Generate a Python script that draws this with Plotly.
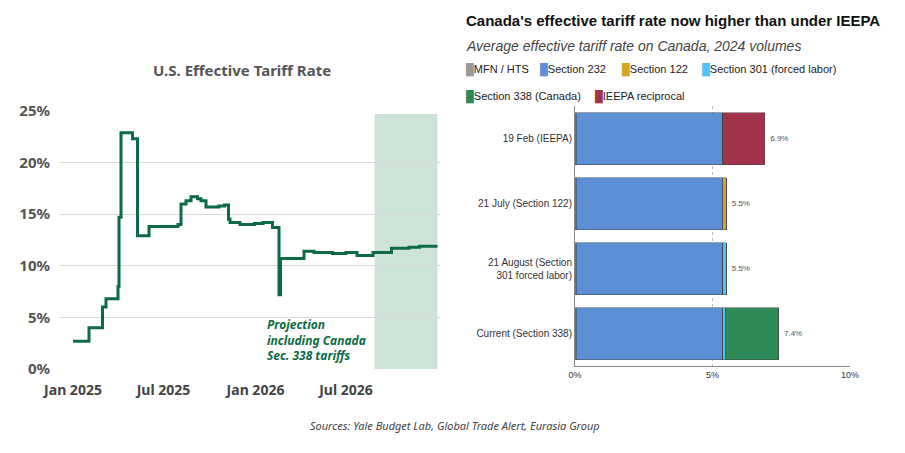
import plotly.graph_objects as go

# ---- Left chart data ----
dates = ["2025-01-01","2025-02-02","2025-03-01","2025-03-08","2025-04-01","2025-04-03","2025-04-07",
         "2025-04-30","2025-05-10","2025-06-02","2025-07-30","2025-08-05","2025-08-15","2025-08-25",
         "2025-09-07","2025-09-14","2025-09-24","2025-10-20","2025-10-31","2025-11-08","2025-11-11",
         "2025-12-01","2025-12-30","2026-01-16","2026-02-04","2026-02-17","2026-02-20","2026-04-08",
         "2026-04-28","2026-06-04","2026-07-01","2026-07-23","2026-08-24","2026-09-30","2026-11-04",
         "2026-11-25","2026-12-31"]
rates = [2.7,4.0,6.0,6.8,8.0,14.7,22.9,22.3,12.9,13.8,14.0,16.0,16.3,16.7,16.5,16.3,15.7,15.8,15.9,
         14.5,14.2,14.0,14.1,14.2,13.7,7.2,10.7,11.4,11.3,11.2,11.3,11.0,11.3,11.7,11.8,11.9,11.9]
proj_start, proj_end = "2026-08-27", "2026-12-31"
x_ticks = ["2025-01-01", "2025-07-01", "2026-01-01", "2026-07-01"]
x_ticktext = ["Jan 2025", "Jul 2025", "Jan 2026", "Jul 2026"]

# ---- Right chart data ----
cats = ["19 Feb (IEEPA)", "21 July (Section 122)", "21 August (Section<br>301 forced labor)", "Current (Section 338)"]
series = ["MFN / HTS", "Section 232", "Section 122", "Section 301 (forced labor)", "Section 338 (Canada)", "IEEPA reciprocal"]
colors = ["#999999", "#5b8fd6", "#d9a520", "#4fc3f7", "#2e8b57", "#a3334b"]
values = {
    "MFN / HTS": [0.05, 0.05, 0.05, 0.05],
    "Section 232": [5.32, 5.32, 5.32, 5.32],
    "Section 122": [0, 0.13, 0, 0],
    "Section 301 (forced labor)": [0, 0, 0.13, 0.1],
    "Section 338 (Canada)": [0, 0, 0, 1.93],
    "IEEPA reciprocal": [1.53, 0, 0, 0],
}
totals = ["6.9%", "5.5%", "5.5%", "7.4%"]
totals_v = [6.9, 5.5, 5.5, 7.4]

W, H, OFF = 889, 437, 8
def px(x): return (x - OFF) / W
def py(y): return 1 - (y - OFF) / H

fig = go.Figure()
G = "#0b6b45"
fig.add_trace(go.Scatter(x=dates, y=rates, mode="lines", line=dict(color=G, width=3, shape="hv"),
                         xaxis="x", yaxis="y", showlegend=False))
fig.add_shape(type="rect", xref="x", yref="y", x0=proj_start, x1=proj_end, y0=0, y1=24.7,
              fillcolor="#cde3d8", line_width=0, layer="below")

for s, c in zip(series, colors):
    fig.add_trace(go.Bar(y=cats, x=values[s], orientation="h", marker=dict(color=c, line=dict(color="#444", width=0.5)),
                         name=s, xaxis="x2", yaxis="y2", showlegend=False, width=0.8))
fig.add_trace(go.Scatter(y=cats, x=[v + 0.2 for v in totals_v], text=totals, mode="text", textposition="middle right",
                         textfont=dict(size=8, color="#555"), xaxis="x2", yaxis="y2", showlegend=False))

fig.update_layout(
    width=W, height=H, margin=dict(l=0, r=0, t=0, b=0), paper_bgcolor="white", plot_bgcolor="white",
    barmode="stack", font=dict(family="Liberation Sans", color="#333"),
    xaxis=dict(domain=[px(60), px(440)], anchor="y", type="date", range=["2024-12-06", "2027-01-05"],
               tickvals=x_ticks, ticktext=x_ticktext, showgrid=False, zeroline=False, automargin=False,
               tickfont=dict(family="Noto Sans", size=14, color="#444", weight="bold"),
               ticks="outside", ticklen=8, tickcolor="white"),
    yaxis=dict(domain=[py(369), py(111)], anchor="x", range=[0, 25], dtick=5, ticksuffix="%",
               gridcolor="#d9d9d9", zeroline=False, automargin=False,
               tickfont=dict(family="Noto Sans", size=15, color="#555", weight="bold"),
               ticks="outside", ticklen=6, tickcolor="white"),
    xaxis2=dict(domain=[px(575), px(850)], anchor="y2", range=[0, 10], tickvals=[0, 5, 10], ticktext=["0%", "5%", "10%"],
                showgrid=True, gridcolor="#bbb", griddash="dot", zeroline=False, showline=True, linecolor="#888",
                automargin=False, tickfont=dict(size=9, color="#333")),
    yaxis2=dict(domain=[py(366), py(106)], anchor="x2", autorange="reversed", showline=True, linecolor="#888",
                automargin=False, tickfont=dict(size=10, color="#333"), ticks=""),
)

ann = [
    dict(x=px(242), y=py(70), text="<b>U.S. Effective Tariff Rate</b>", font=dict(family="Noto Sans", size=15, color="#555")),
    dict(x=px(265), y=py(340), text="<i><b>Projection<br>including Canada<br>Sec. 338 tariffs</b></i>", align="left",
         xanchor="left", font=dict(family="Noto Sans", size=12, color=G)),
    dict(x=px(464), y=py(20), xanchor="left", text="<b>Canada's effective tariff rate now higher than under IEEPA</b>",
         font=dict(size=15, color="#111")),
    dict(x=px(464), y=py(46), xanchor="left", text="<i>Average effective tariff rate on Canada, 2024 volumes</i>",
         font=dict(size=14, color="#444")),
    dict(x=px(455), y=py(425), text="<i>Sources: Yale Budget Lab, Global Trade Alert, Eurasia Group</i>",
         font=dict(family="Noto Sans", size=11, color="#444")),
]
leg_pos = [(464, 69), (538, 69), (620, 69), (700, 69), (464, 96), (593, 96)]
for (lx, ly), s, c in zip(leg_pos, series, colors):
    ann.append(dict(x=px(lx), y=py(ly), xanchor="left",
                    text=f"<span style='color:{c}'>█</span>{s}", font=dict(size=11, color="#222")))
for a in ann:
    a.update(xref="paper", yref="paper", showarrow=False, yanchor="middle")
    a.setdefault("xanchor", "center")
fig.update_layout(annotations=ann)
fig.write_html("out.html")
